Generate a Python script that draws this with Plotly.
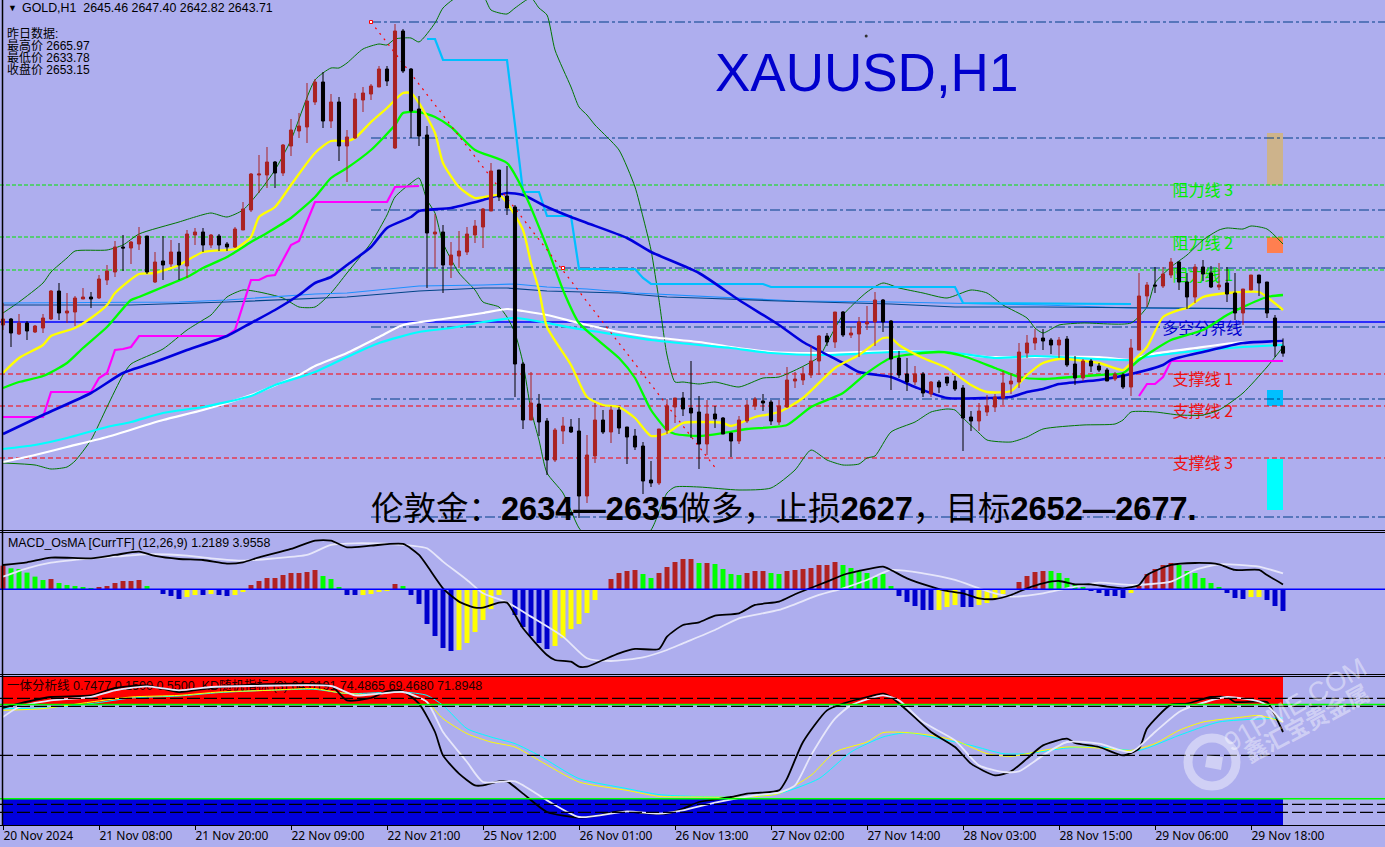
import plotly.graph_objects as go

# ---- candles (prices) ----
opens = [2650.75,2652.25,2648.5,2651.25,2649,2650,2652.25,2659.25,2653.75,2654,2657.25,2657.75,2657.5,2662,2664,2670.25,2670,2671,2673,2661.5,
2666.75,2666,2669,2665.5,2673.25,2674,2670.75,2673,2671,2670.25,2674.5,2679.5,2688.25,2688.25,2691.5,2688.75,2695.5,2699.25,2700.25,2706.5,
2711.5,2701.75,2706.5,2695.5,2697.5,2707,2708.5,2710.25,2714.75,2695,2724.25,2714.75,2704.75,2698.25,2673.5,2674,2665.75,2668,2669,2673.25,
2675.25,2679.25,2689.5,2683,2680.25,2641,2627,2631,2626.75,2617,2624.25,2625.25,2624.25,2608,2618,2627,2624,2629.5,2625.25,2623,
2620.5,2612,2611.25,2624.5,2630.25,2632.5,2630,2629,2621,2628.5,2627.5,2623.75,2621.75,2626.75,2630.5,2631.75,2631.5,2626.5,2630.25,2636.75,
2637,2638.25,2641.75,2648,2646.5,2654,2648.25,2648.5,2651,2651.5,2657,2651.75,2642.5,2638.5,2636.5,2638.5,2633.5,2636.5,2637.75,2636.75,
2635,2627.75,2626.75,2629,2630.25,2632.5,2636,2636.5,2643.75,2646.25,2647.5,2647,2645.75,2647.25,2641,2637.5,2641.75,2640.5,2639.5,2637.25,
2638.25,2635.25,2644.5,2658,2660.75,2660.5,2663.25,2666.5,2661.5,2657.75,2665.25,2663.75,2660.25,2661.25,2658.75,2653.75,2659.5,2663.25,2661.5,2652.5,
2645.46]
highs = [2656.25,2652.5,2653.5,2651.75,2650.75,2653.5,2659.5,2661.25,2658.75,2658,2660,2659,2663.25,2665.75,2671.75,2673.25,2671.75,2675.25,2673,2669,
2673,2672,2671.25,2674.5,2675,2675,2673.5,2673.5,2671.5,2675.25,2681.5,2688.75,2693.25,2695.25,2691.75,2696,2702.25,2703.75,2711.25,2712.25,
2714,2708.5,2707.75,2699.5,2708.75,2710.25,2711,2715.5,2715.5,2726,2724.75,2715,2708,2700.5,2678.5,2675.75,2671.5,2674.25,2675.25,2677,
2680,2691.25,2689.5,2690.5,2680.75,2641.5,2639,2633.5,2627.5,2625,2627.75,2627.25,2627.5,2623.25,2631.25,2629.5,2630.5,2630.25,2625.25,2624.75,
2621.5,2616.75,2624.75,2632.25,2632.5,2634,2641.75,2633,2632,2630.5,2627.75,2623.75,2628,2632,2632.75,2633.5,2632,2632,2640.25,2639,
2640.25,2645.5,2648.25,2648.75,2654,2654.25,2650.25,2652.75,2655.5,2659,2657.25,2652,2644.25,2642.5,2640.5,2639,2636.75,2637,2637.75,2638,
2635.75,2629.25,2631.25,2633.25,2633.5,2639.25,2638.75,2646.25,2648.25,2649.75,2649.75,2647.5,2647.75,2648,2643,2642.25,2642.25,2641.25,2640,2639,
2638.75,2647.25,2663.75,2661.5,2665.25,2665.25,2667.5,2666.75,2663.75,2666,2667,2665.5,2666.25,2665.25,2663.75,2659.75,2663.25,2663.25,2661.5,2653.25,
2647.40]
lows = [2649.5,2645.25,2648.25,2647,2648.75,2648.75,2652,2652,2651.25,2650.5,2657.25,2655,2657.25,2660.75,2662.75,2664.25,2666,2669.5,2663.5,2661.25,
2662,2665.25,2662,2662.5,2670.75,2669,2670,2669.25,2669.25,2670,2674.5,2679,2683.75,2685,2685,2688,2693,2697.5,2696.25,2705.75,
2700,2700,2691.75,2686.5,2697.25,2704,2707,2710.25,2710.5,2694.75,2713.75,2697.5,2695.5,2660,2665,2658.75,2662.5,2665,2668.25,2671.25,
2670,2679.25,2681.75,2678.25,2632.75,2624.75,2627,2623,2613.25,2616.5,2621,2623.75,2602.5,2606.25,2616.25,2623.5,2621.25,2623.5,2616,2619.5,
2608.5,2610.25,2610.75,2623.5,2626.25,2628,2622.5,2614.75,2618.25,2625,2623.5,2617.75,2621,2626.25,2629.5,2629.25,2625.75,2625.75,2630,2635,
2635.75,2637.5,2638.25,2645.5,2645,2647.75,2647.5,2642.75,2649.5,2645.5,2649,2634.5,2637.5,2634.25,2635.75,2632.75,2632.75,2633.75,2635.5,2634.25,
2619.25,2624.25,2624.25,2628,2629,2630.75,2633.5,2635,2642.5,2644.5,2644.5,2643.5,2642.5,2640.25,2635.75,2636.75,2639,2639,2636.75,2636.75,
2634.75,2633,2644.5,2655.25,2658.75,2660,2662.5,2659.5,2654.75,2656.25,2661.75,2660,2659.5,2656.5,2652,2650.75,2659.5,2658,2652.5,2642.75,
2642.82]
closes = [2652.25,2648.75,2651.25,2649.25,2650.5,2652.5,2659.25,2653.75,2654.25,2657.5,2657.75,2657.25,2662.25,2664.25,2670.25,2670,2671.5,2673,2664,2666.5,
2665.75,2669,2665.75,2673.5,2674,2670.75,2673.25,2670.75,2670.25,2674.75,2679.75,2688.5,2688.5,2691.5,2688.75,2695.75,2699.5,2700.5,2706.75,2711.5,
2701.75,2706.5,2695.5,2697.75,2707.25,2708.75,2710.5,2714.75,2711.75,2724.25,2714.25,2704.25,2698,2673.75,2674,2665.75,2668.25,2669.25,2673.5,2675.5,
2679.75,2689.25,2682.75,2680,2641,2627,2631.25,2626.5,2617,2624.5,2625.5,2624,2608,2618.25,2627,2624,2629.5,2625,2622.75,2620.25,
2611.75,2611.25,2624.75,2630.5,2632.5,2629.75,2628.75,2621,2628.5,2627.25,2623.5,2621.75,2627,2630.75,2632.25,2631.25,2626.75,2630.5,2637,2637.25,
2638.5,2641.75,2648,2646.5,2654,2648.25,2648.75,2651.5,2651.5,2657,2651.5,2642.25,2638.25,2636.5,2638.5,2633.75,2636.5,2635.25,2636.25,2634.75,
2627.5,2626.75,2629.25,2630.5,2632.75,2636.25,2636.75,2644,2646.25,2647.5,2646.75,2645.75,2647,2640.75,2637.5,2641.75,2640.5,2639.5,2636.75,2638.5,
2635.25,2645,2658,2660.75,2660.5,2663.5,2666.5,2661.5,2657.75,2665.25,2663.5,2660.25,2660.75,2658.5,2653.75,2659.75,2663.25,2661.25,2653.75,2645.5,
2643.71]
bars = list(range(len(closes)))

# ---- moving averages: (bar, price) ----
ma_yellow = [(0,2638.75),(2,2642.5),(5,2645.75),(6,2648),(9,2650),(11,2652.5),(13,2655.75),(14,2658.75),(17,2663.5),(19,2663.75),(22,2665.75),(25,2669),(28,2669.5),(29,2669.75),(31,2672.75),(32,2677.75),(34,2680.25),(36,2685.75),(39,2693.75),(41,2696.75),(43,2696.75),(44,2697.5),(46,2701.5),(47,2703.25),(48,2705),(50,2708.75),(51,2708.75),(52,2706.25),(54,2698.75),(55,2691.25),(57,2685.25),(59,2682.5),(62,2683.25),(63,2681.25),(65,2674.5),(66,2666.25),(67,2659.5),(68,2650.25),(71,2640.75),(73,2632.75),(75,2630.75),(77,2630.25),(79,2627.5),(81,2623),(83,2623.75),(85,2626.25),(87,2626.5),(90,2626.25),(91,2625.5),(94,2627.75),(97,2629),(100,2632.5),(104,2640),(107,2643.25),(110,2647.5),(111,2647.5),(112,2645.75),(115,2642.5),(118,2640),(121,2635.75),(123,2634),(126,2634.25),(128,2638.25),(130,2641.25),(132,2642.25),(137,2641.25),(140,2639.5),(141,2641.25),(143,2645.25),(145,2652.75),(147,2654.5),(148,2655),(150,2657.75),(153,2658.75),(157,2659),(158,2657.75),(160,2654.5)]
ma_green = [(0,2635),(2,2636.5),(5,2638),(8,2641.25),(10,2645),(13,2650.25),(16,2657),(17,2657.75),(20,2660.25),(23,2662.75),(25,2665),(28,2667.75),(31,2671.5),(33,2673.75),(36,2677.5),(39,2682.75),(41,2687.5),(43,2690),(46,2694.5),(49,2700.75),(50,2703.75),(52,2704),(54,2702.75),(56,2700.25),(59,2694.5),(63,2691.25),(65,2684.5),(68,2670.25),(70,2659.5),(72,2651.25),(77,2642.5),(79,2637.5),(81,2629.5),(83,2624.5),(84,2623.5),(87,2623),(90,2623.75),(93,2624.75),(98,2625.75),(101,2630.25),(105,2633.75),(108,2638.75),(111,2642.5),(117,2644),(120,2643),(124,2640),(127,2637.75),(130,2637.25),(132,2637.5),(137,2638.25),(140,2638.75),(142,2642),(146,2647),(150,2649.5),(153,2653.25),(155,2655.25),(158,2657.75),(160,2658.25)]
ma_blue = [(0,2623.5),(5,2628.25),(11,2633.75),(15,2638.75),(19,2641.5),(23,2644.5),(28,2648),(31,2651.25),(34,2654.5),(37,2658.25),(39,2661.25),(41,2662.75),(43,2665.75),(46,2670.25),(48,2675),(51,2677.75),(52,2679.25),(56,2680),(60,2682),(63,2683.75),(65,2683.25),(68,2680.25),(71,2677.75),(73,2676.25),(78,2672.5),(81,2669),(87,2663.75),(92,2657),(97,2650.75),(100,2646.5),(105,2641.25),(107,2639),(111,2637.75),(114,2635.25),(118,2632.5),(123,2632.5),(126,2632.75),(128,2634),(130,2634.75),(132,2636),(137,2637),(141,2638.5),(145,2640.75),(146,2642),(150,2644),(155,2646.25),(160,2646.75)]
ma_white = [(0,2616.5),(4,2618.25),(8,2620.25),(13,2622.75),(20,2627),(25,2629.5),(31,2633.25),(37,2638.25),(39,2640.5),(43,2643.75),(47,2647.75),(50,2650.75),(55,2652.25),(60,2653.75),(63,2654.75),(65,2654.25),(68,2653.25),(72,2651.25),(77,2649),(81,2647.75),(87,2646.5),(91,2645.25),(96,2644),(103,2643.75),(111,2644.25),(117,2644),(123,2642.75),(129,2642.75),(137,2642.75),(141,2642),(143,2643.25),(149,2645),(155,2646.5),(160,2646.5)]
ma_cyan = [(0,2619.75),(4,2620.75),(8,2622.5),(13,2625.25),(16,2626.5),(20,2628.75),(25,2630.25),(31,2633),(34,2635.75),(39,2639),(43,2642.75),(47,2646.25),(52,2649),(56,2650),(60,2651.5),(64,2652.5),(68,2651.25),(72,2649.75),(77,2648.25),(81,2647),(87,2645.75),(91,2645),(96,2643.75),(103,2643.25),(111,2644),(118,2644),(124,2642.5),(129,2643),(132,2642.75),(141,2642),(143,2642.75),(149,2644.25),(155,2645.25),(160,2645.75)]
stop_magenta = [(0,2627.75),(5,2627.75),(6,2634),(11,2634),(12,2637.5),(13,2638.75),(14,2644.5),(15,2644.75),(16,2645.25),(17,2648),(28,2648),(29,2649.5),(31,2662),(32,2662),(33,2663),(34,2663.25),(35,2667),(36,2670.75),(37,2671.75),(39,2681.5),(48,2681.5),(49,2685.25),(52,2685.5),(None,None),(142,2633),(143,2636),(144,2636),(145,2637.75),(146,2641.75),(160,2641.75)]
stop_sky = [(53,2722.25),(54,2722.25),(55,2717),(63,2717),(64,2700.75),(65,2684),(67,2684),(68,2678),(71,2678),(72,2664.75),(79,2664.75),(80,2662.5),(81,2661),(95,2661),(96,2660.25),(119,2660.25),(120,2656.25),(141,2656)]
slow_light = [(0,2656.25),(22,2656.5),(28,2657),(39,2658.5),(43,2658.75),(52,2660.5),(60,2660.75),(64,2661),(68,2660.25),(73,2659.75),(79,2658.75),(87,2658),(99,2656.75),(111,2656.5),(119,2656.25),(130,2655.75),(141,2655),(160,2654.75)]
slow_dark = [(0,2655.75),(16,2655.75),(28,2656.5),(43,2657.75),(52,2659.25),(60,2660),(63,2660),(68,2659.25),(77,2658.75),(83,2657.75),(87,2657.5),(97,2656.75),(111,2656),(119,2655.25),(130,2655.25),(141,2655),(160,2654.75)]
bb_upper = [(0,2653.75),(2,2656.5),(5,2661.25),(6,2664),(8,2667.5),(9,2669.25),(13,2669.5),(15,2670.75),(17,2673.5),(22,2676.5),(24,2677.75),(26,2678.75),(28,2677.75),(30,2679.5),(32,2684),(34,2689.5),(36,2697),(39,2712),(41,2715),(42,2715),(43,2716.25),(45,2719.75),(47,2721),(48,2720.75),(49,2722.25),(51,2722.5),(52,2721.5),(54,2726.25),(55,2730),(57,2733),(60,2733),(61,2729.5),(63,2728.5),(64,2730),(66,2732.5),(67,2730),(68,2728.25),(69,2719.5),(71,2710.25),(72,2705.25),(73,2703.25),(74,2700.75),(75,2698.75),(77,2694.5),(79,2685.25),(80,2677.75),(81,2669.5),(82,2657),(83,2643.25),(84,2636.5),(85,2636.5),(87,2636),(89,2636.5),(92,2635.25),(95,2637.5),(97,2637.75),(102,2642.75),(103,2646.25),(105,2653.25),(108,2659),(110,2661.25),(112,2660),(115,2658.75),(118,2657.5),(121,2659.5),(123,2658.75),(125,2655.75),(128,2652.5),(129,2650),(130,2648.75),(132,2650.75),(135,2651.25),(141,2651.25),(143,2655.25),(144,2661.25),(146,2665.25),(148,2668.25),(150,2672),(152,2674.5),(153,2675),(155,2674.75),(156,2675.5),(158,2674.75),(160,2671)]
bb_lower = [(0,2616.25),(4,2615.75),(6,2614.75),(8,2615.25),(9,2616.75),(11,2622),(13,2630.25),(15,2638.25),(16,2641),(20,2644.75),(23,2649.5),(25,2652),(26,2653.25),(28,2657.75),(30,2659.5),(32,2659),(35,2657.5),(37,2655.25),(39,2655.25),(41,2658.75),(43,2663.75),(46,2671.25),(48,2678.25),(49,2682.75),(51,2686.25),(52,2687.5),(53,2682),(54,2678.75),(55,2671.25),(57,2663.75),(59,2659.5),(60,2656.5),(62,2655.25),(63,2652.75),(64,2648.75),(65,2641.25),(66,2629.5),(67,2622),(68,2613.75),(70,2608.75),(72,2600),(74,2595.75),(78,2594.5),(81,2599.5),(83,2608.75),(84,2610.25),(87,2610.25),(92,2609.5),(96,2610),(99,2614.5),(101,2619.5),(103,2617),(105,2615.75),(107,2616),(108,2617.5),(109,2618),(111,2624),(114,2626.5),(116,2629),(118,2629.75),(119,2629.5),(120,2627.5),(122,2623.75),(123,2622),(126,2621.5),(128,2622.75),(130,2624.75),(135,2625.75),(139,2626),(140,2627),(141,2629),(144,2629),(147,2628.25),(150,2628.25),(152,2629.5),(155,2633.75),(158,2640.25),(160,2645.25)]
trend_bars = [46, 89.25]
trend_prices = [2726.5, 2614.5]

# ---- horizontal levels ----
levels_dashdot = [2726.5, 2697.5, 2679.5, 2665, 2650.25, 2632.25, 2602.75]
levels_resist = [2685.75, 2672.75, 2664.5]
levels_support = [2638.5, 2630.5, 2617.5]
level_pivot = 2651.5
label_resist = ["阻力线 3", "阻力线 2", "阻力线 1"]
label_resist_prices = [2684, 2670.75, 2662.75]
label_support = ["支撑线 1", "支撑线 2", "支撑线 3"]
label_support_prices = [2636.75, 2628.75, 2615.75]
label_pivot = "多空分界线"
label_pivot_price = 2649.5
zone_colors = ["#CDB38B", "#FF7F50", "#00BFFF", "#00FFFF"]
zone_low = [2685.75, 2668.75, 2630.5, 2604.5]
zone_high = [2698.75, 2672.75, 2634.5, 2617.25]

# ---- MACD panel ----
hist_values = [5.92,5.25,5.08,4.17,3.17,2.33,2.58,1.58,1.08,.83,.58,.33,.58,.83,1.58,2.08,2.08,2.33,.83,0,
-1.17,-1.67,-2.42,-1.92,-1.42,-1.42,-1.17,-1.42,-1.67,-1.42,-.67,1.08,2.08,2.83,2.83,3.58,4.08,4.08,4.33,4.83,
3.33,2.58,.58,-1.42,-1.42,-1.42,-1.17,-.67,-.42,1.33,.83,-1.42,-3.67,-8.67,-11.67,-14.67,-15.42,-15.17,-13.42,-10.67,
-7.67,-4.92,-1.42,0,-6.42,-9.42,-11.67,-13.42,-14.92,-14.17,-12.17,-9.92,-8.67,-5.92,-2.67,0,2.58,4.08,4.58,4.83,
3.83,2.83,4.08,5.58,6.83,7.58,7.58,6.58,6.58,6.33,5.08,3.83,3.58,4.08,4.58,4.58,4.08,3.83,4.58,4.83,
5.08,5.33,6.08,6.08,6.83,6.08,5.33,4.58,4.08,3.08,3.83,.83,-1.67,-3.17,-4.17,-5.17,-5.17,-5.17,-4.42,-3.92,
-4.42,-4.42,-3.92,-3.42,-2.42,-1.17,0,1.83,3.33,4.33,4.58,4.58,4.08,2.83,1.08,.58,-.42,-.92,-1.67,-1.67,
-2.17,-.92,.83,3.83,5.08,6.08,6.58,6.08,4.58,4.08,2.83,1.58,.58,-.92,-2.17,-2.42,-1.92,-1.92,-2.67,-4.17,
-5.42]
hist_runs = [("r",1),("g",5),("r",1),("g",5),("r",6),("g",2),("b",3),("y",2),("b",1),("y",1),("b",2),("y",2),("r",9),("g",3),("b",2),("y",4),("r",1),("g",1),("b",6),("y",6),("b",6),("y",7),("r",4),("g",2),("r",5),("g",1),("r",1),("g",4),("r",3),("g",2),("r",7),("g",7),("b",5),("y",3),("b",2),("y",5),("r",4),("g",5),("b",5),("y",1),("r",5),("g",6),("b",3),("y",2),("b",3)]
hist_palette = {"r":"#B22222","g":"#00FF00","b":"#0000CD","y":"#FFFF00"}
macd_black = [(0,6.08),(3,6.75),(6,7.92),(11,7.75),(14,8.58),(17,9.42),(19,8.33),(22,7.58),(25,7.33),(28,6.42),(30,6.75),(32,8),(36,10.08),(39,12.17),(41,12.17),(43,10.5),(46,10.92),(50,11.33),(52,8.58),(55,.25),(57,-3.08),(59,-4.58),(60,-4.58),(62,-3.33),(63,-3.33),(65,-9.75),(68,-16.42),(69,-17.67),(71,-18.08),(72,-19.33),(73,-19.33),(75,-17.67),(77,-16),(79,-14.92),(82,-14.92),(83,-11.83),(85,-8.92),(87,-8.25),(89,-6.58),(92,-6),(94,-3.92),(97,-3.08),(99,-1.25),(100,-.42),(103,1.92),(105,3.58),(107,4.58),(110,5.67),(111,4.83),(113,2.75),(116,.67),(118,-.42),(120,-1),(122,-2.25),(124,-2.42),(126,-1.42),(128,.25),(130,1.5),(132,2.08),(134,1.25),(136,1.25),(138,.67),(140,.25),(142,1.08),(143,3.58),(146,6.08),(149,6.58),(152,6.25),(154,4.83),(157,4.83),(158,3.58),(160,1.22)]
macd_white = [(0,3.17),(3,5.25),(6,6.67),(11,7.75),(15,8.33),(18,8.75),(23,8.42),(26,7.75),(30,7.17),(34,7.75),(38,8.58),(41,11.08),(44,11.5),(49,11.25),(51,10.92),(53,10.25),(55,6.92),(58,2.33),(60,-1),(63,-3.25),(66,-6.83),(70,-11.83),(73,-17.25),(76,-17.92),(80,-17),(83,-15.17),(85,-13.5),(89,-10.17),(92,-7.25),(97,-5.17),(102,-1.42),(105,.25),(108,2.33),(111,4.83),(115,4),(119,2.33),(122,.25),(124,-1),(126,-1.83),(130,-1),(133,.25),(137,1.67),(141,1.08),(146,1.92),(149,4.83),(152,6.25),(157,5.67),(160,3.96)]

# ---- KD panel ----
kd_black = [(0,82.4),(2,85.9),(6,91.2),(11,92.5),(14,98.4),(18,100.5),(22,95.2),(26,98.4),(31,101.1),(41,100),(43,88.5),(46,90.4),(48,95.7),(50,95.7),(52,85.9),(54,63.2),(55,44.5),(57,29.9),(59,20.5),(60,20.5),(62,23.7),(63,23.7),(65,13.9),(68,-.8),(72,-5.3),(74,-4),(77,-.3),(81,-2.1),(83,-2.1),(85,1.9),(87,7.2),(91,11.2),(93,13.9),(97,16.5),(98,25.9),(100,55.2),(103,80.5),(105,85.9),(108,91.2),(110,93.9),(111,91.2),(113,80.5),(116,63.2),(119,51.2),(121,37.9),(124,28.5),(126,31.7),(128,41.9),(130,52.5),(133,57.9),(134,54.4),(137,51.2),(140,44.5),(142,49.9),(143,65.9),(146,85.1),(148,85.9),(151,91.2),(153,91.2),(154,87.2),(158,87.2),(159,76.5),(160,63.2)]
kd_white = [(0,75.2),(2,83.2),(6,88.5),(11,91.2),(14,96.5),(18,99.7),(22,96.5),(26,99.2),(31,100),(41,100),(44,92.5),(47,93.9),(50,95.2),(53,87.2),(55,63.2),(58,39.2),(60,23.2),(64,23.7),(68,8.5),(72,-4.8),(78,-.3),(82,-2.1),(85,.5),(89,6.7),(94,12.5),(97,14.7),(99,20.5),(101,44.5),(104,73.9),(106,84.5),(110,92.5),(112,88.5),(115,71.2),(119,56.5),(122,36.5),(125,31.2),(127,31.7),(130,44.5),(133,55.2),(137,53.9),(141,47.2),(144,63.2),(147,79.2),(149,84.5),(153,91.2),(157,87.7),(158,84.5),(160,71.2)]
kd_yellow = [(0,80.5),(5,81.9),(11,87.2),(16,91.2),(22,92.5),(27,95.2),(33,96.5),(39,97.9),(42,94.7),(46,93),(50,95.2),(53,87.2),(55,73.9),(58,61.9),(61,55.2),(64,51.2),(67,40.5),(72,23.2),(78,16.5),(82,11.7),(87,11.2),(93,11.2),(97,13.9),(101,28.5),(104,47.2),(108,55.2),(110,62.7),(113,62.7),(116,60.5),(119,56.5),(123,45.9),(126,43.7),(130,48.5),(133,51.2),(137,50.4),(141,48.5),(144,53.9),(147,64.5),(150,71.2),(155,75.2),(157,76.5),(160,71.2)]
kd_cyan = [(0,81.9),(5,82.4),(11,85.9),(16,90.4),(22,92),(27,94.7),(33,96.5),(39,97.3),(43,93.9),(50,95.2),(53,92.5),(55,84.5),(58,65.9),(61,59.2),(64,53.9),(67,44.5),(72,25.9),(78,17.9),(82,13.1),(85,12),(93,11.2),(97,13.9),(102,25.9),(106,47.2),(110,59.2),(113,62.7),(116,59.2),(121,52.5),(125,45.9),(128,45.9),(133,50.4),(137,51.2),(142,48.5),(147,60.5),(152,71.2),(160,74.4)]
kd_dashed = [90.16, 83.76, 44.56, 5.36, -1.04]
kd_green = [85.2, 9.84]

# ---- axis labels ----
tick_bars = [0,12,24,36,48,60,72,84,96,108,120,132,144,156]
tick_labels = ["20 Nov 2024","21 Nov 08:00","21 Nov 20:00","22 Nov 09:00","22 Nov 21:00","25 Nov 12:00","26 Nov 01:00","26 Nov 13:00","27 Nov 02:00","27 Nov 14:00","28 Nov 03:00","28 Nov 15:00","29 Nov 06:00","29 Nov 18:00"]

W, H = 1385, 847
BG = "#AEAEEE"
CJK = "Noto Sans CJK SC"
UI = "Liberation Sans, Noto Sans CJK SC"
WM = "rgba(255,255,255,0.42)"


def xs(p):
    return [a for a, _ in p]


def ys(p):
    return [b for _, b in p]


fig = go.Figure()


def line(series, color, width, axis="y", shape="linear", dash="solid"):
    ln = dict(color=color, width=width, shape=shape, dash=dash)
    if shape == "spline":
        ln["smoothing"] = 0.6
    fig.add_trace(go.Scatter(x=xs(series), y=ys(series), yaxis=axis, mode="lines", line=ln,
                             connectgaps=False, hoverinfo="skip", showlegend=False))


def level_text(texts, prices, color, bar):
    fig.add_trace(go.Scatter(x=[bar] * len(texts), y=prices, mode="text", text=texts,
                             textposition="middle right",
                             textfont=dict(family=CJK, size=16, color=color),
                             hoverinfo="skip", showlegend=False))


level_text(label_resist, label_resist_prices, "#00EE00", 146.2)
level_text(label_support, label_support_prices, "#EE1111", 146.2)
level_text([label_pivot], [label_pivot_price], "#0000CD", 144.9)

line(bb_upper, "#007700", 1, shape="spline")
line(bb_lower, "#007700", 1, shape="spline")
line(slow_light, "#1E90FF", 1.2)
line(slow_dark, "#004488", 1.2)
line(ma_white, "#FFFFFF", 2.2, shape="spline")
line(ma_cyan, "#00FFFF", 2.2, shape="spline")
line(stop_magenta, "#FF00FF", 2.2)
line(stop_sky, "#00BFFF", 2.2)
line(ma_blue, "#0000DD", 2.6, shape="spline")
line(ma_green, "#00FF00", 2.3, shape="spline")
line(ma_yellow, "#FFFF00", 2.3, shape="spline")
line(list(zip(trend_bars, trend_prices)), "#FF0000", 1.2, dash="2px,5px")
fig.add_trace(go.Scatter(x=trend_bars[:1] + [70.0], y=trend_prices[:1] + [2665], mode="markers",
                         marker=dict(symbol="square", size=3, color="#FFFFFF", line=dict(color="#FF0000", width=1)),
                         hoverinfo="skip", showlegend=False))
fig.add_trace(go.Scatter(x=[107.9], y=[2723], mode="markers", marker=dict(size=3, color="#333333"),
                         hoverinfo="skip", showlegend=False))
fig.add_trace(go.Candlestick(x=bars, open=opens, high=highs, low=lows, close=closes, yaxis="y4",
                             increasing=dict(line=dict(color="#AA2222", width=1), fillcolor="#AA2222"),
                             decreasing=dict(line=dict(color="#000000", width=1), fillcolor="#000000"),
                             whiskerwidth=0, hoverinfo="skip", showlegend=False))

kinds = "".join(k * n for k, n in hist_runs)
fig.add_trace(go.Bar(x=bars, y=hist_values, yaxis="y2", width=0.62,
                     marker=dict(color=[hist_palette[k] for k in kinds], line=dict(width=0)),
                     hoverinfo="skip", showlegend=False))
line(macd_white, "#E6E6FA", 1.8, axis="y2", shape="spline")
line(macd_black, "#000000", 1.8, axis="y2", shape="spline")

fig.add_trace(go.Scatter(x=[0.5], y=[99.5], yaxis="y3", mode="text",
                         text=["一体分析线 0.7477 0.1500 0.5500  KD随机指标 (3) 64.0191 74.4865 69.4680 71.8948"],
                         textposition="middle right", textfont=dict(family=UI, size=12.5, color="#200000"),
                         hoverinfo="skip", showlegend=False))
line(kd_cyan, "#00FFFF", 1, axis="y3", shape="spline")
line(kd_yellow, "#FFFF00", 1, axis="y3", shape="spline")
line(kd_black, "#000000", 1.8, axis="y3", shape="spline")
line(kd_white, "#E6E6FA", 1.8, axis="y3", shape="spline")

XMAX = (W - 3) / 8
shapes = []


def hline(y, yref, color, width, dash, x0=-0.375, layer="below"):
    shapes.append(dict(type="line", xref="x", yref=yref, x0=x0, x1=XMAX, y0=y, y1=y, layer=layer,
                       line=dict(color=color, width=width, dash=dash)))


def sep(px):
    shapes.append(dict(type="line", xref="paper", yref="paper", x0=0, x1=1, y0=1 - px / H, y1=1 - px / H,
                       layer="above", line=dict(color="#000000", width=1)))


for low, high, col in zip(zone_low, zone_high, zone_colors):
    shapes.append(dict(type="rect", xref="x", yref="y", x0=158, x1=160, y0=low, y1=high, layer="below",
                       fillcolor=col, line=dict(width=0)))
for v in levels_dashdot:
    hline(v, "y", "#003F88", 1, "10px,3px,3px,3px", x0=46)
for v in levels_resist:
    hline(v, "y", "#00E600", 1, "4px,2px")
for v in levels_support:
    hline(v, "y", "#FF0000", 1, "5px,3px")
hline(level_pivot, "y", "#0000FF", 1.3, "solid")
hline(0, "y2", "#0000FF", 1.6, "solid", layer="above")
shapes.append(dict(type="rect", xref="x", yref="y3", x0=0, x1=160, y0=kd_green[0], y1=108, layer="below",
                   fillcolor="#FF0000", line=dict(width=0)))
shapes.append(dict(type="rect", xref="x", yref="y3", x0=0, x1=160, y0=-11.2, y1=kd_green[1], layer="below",
                   fillcolor="#0000DD", line=dict(width=0)))
for v in kd_green:
    hline(v, "y3", "#00FF00", 1.4, "solid", layer="above")
for v in kd_dashed:
    hline(v, "y3", "#000000", 1.2, "13px,4px", layer="above")
for px in (530.5, 532.5, 674.5, 676.5, 825.5):
    sep(px)
shapes.append(dict(type="line", xref="paper", yref="paper", x0=2.5 / W, x1=2.5 / W, y0=1 - 825 / H, y1=1,
                   layer="above", line=dict(color="#000000", width=1.5)))
# watermark logo
shapes.append(dict(type="circle", xref="paper", yref="paper", x0=1188 / W, x1=1236 / W,
                   y0=1 - 786 / H, y1=1 - 738 / H, layer="above",
                   line=dict(color=WM, width=9)))
corner = [(1207, 755), (1223, 757), (1221, 770), (1205, 767)]
path = "M " + " L ".join(f"{cx / W:.5f},{1 - cy / H:.5f}" for cx, cy in corner) + " Z"
shapes.append(dict(type="path", xref="paper", yref="paper", path=path, layer="above",
                   fillcolor=WM, line=dict(width=0)))


def note(px, py, text, size, color="#000000", family=UI, xanchor="left", angle=0):
    return dict(xref="paper", yref="paper", x=px / W, y=1 - py / H, text=text, showarrow=False,
                xanchor=xanchor, yanchor="middle", textangle=angle, align="left",
                font=dict(family=family, size=size, color=color), borderpad=0)


annotations = [
    note(7, 8, "▼", 9),
    note(21, 8, "GOLD,H1  2645.46 2647.40 2642.82 2643.71", 12.4),
    note(6, 34, "昨日数据:", 12),
    note(6, 46, "最高价 2665.97", 12),
    note(6, 58, "最低价 2633.78", 12),
    note(6, 70, "收盘价 2653.15", 12),
    note(866, 72, "XAUUSD,H1", 53, color="#0000CD", family="Liberation Sans", xanchor="center"),
    note(370, 509, "伦敦金：<b>2634—2635</b>做多，止损<b>2627</b>，目标<b>2652—2677.</b>", 32.5),
    note(7, 543, "MACD_OsMA [CurrTF] (12,26,9) 1.2189 3.9558", 12.4),
    note(1295, 705, "91PME.COM", 27, color=WM, family="Liberation Sans", xanchor="center", angle=-30),
    note(1306, 722, "<b>鑫汇宝贵金属</b>", 23, color=WM, family=CJK, xanchor="center", angle=-28),
]

hidden = dict(visible=False, showgrid=False, zeroline=False, fixedrange=True)
fig.update_layout(
    width=W, height=H, margin=dict(l=0, r=0, t=0, b=0),
    paper_bgcolor=BG, plot_bgcolor=BG, showlegend=False, hovermode=False, boxgap=0.45,
    xaxis=dict(domain=[0, 1], range=[-0.375, XMAX], anchor="y3", showgrid=False, zeroline=False,
               tickmode="array", tickvals=tick_bars, ticktext=tick_labels, ticks="outside", ticklen=4,
               tickcolor="#000000", tickwidth=1, showline=False, ticklabelposition="outside right",
               tickfont=dict(family="Noto Sans", size=12, color="#000000"),
               rangeslider=dict(visible=False), fixedrange=True),
    yaxis=dict(domain=[1 - 530 / H, 1], range=[2599.5, 2732], anchor="x", **hidden),
    yaxis4=dict(range=[2599.5, 2732], overlaying="y", anchor="x", **hidden),
    yaxis2=dict(domain=[1 - 674 / H, 1 - 532 / H], range=[-21.175, 14.325], anchor="x", **hidden),
    yaxis3=dict(domain=[1 - 825 / H, 1 - 676 / H], range=[-11.2, 108], anchor="x", **hidden),
    shapes=shapes, annotations=annotations,
)
fig.write_html("out.html", config={"displayModeBar": False},
               post_script="document.body.style.margin='0';document.body.style.overflow='hidden';")
